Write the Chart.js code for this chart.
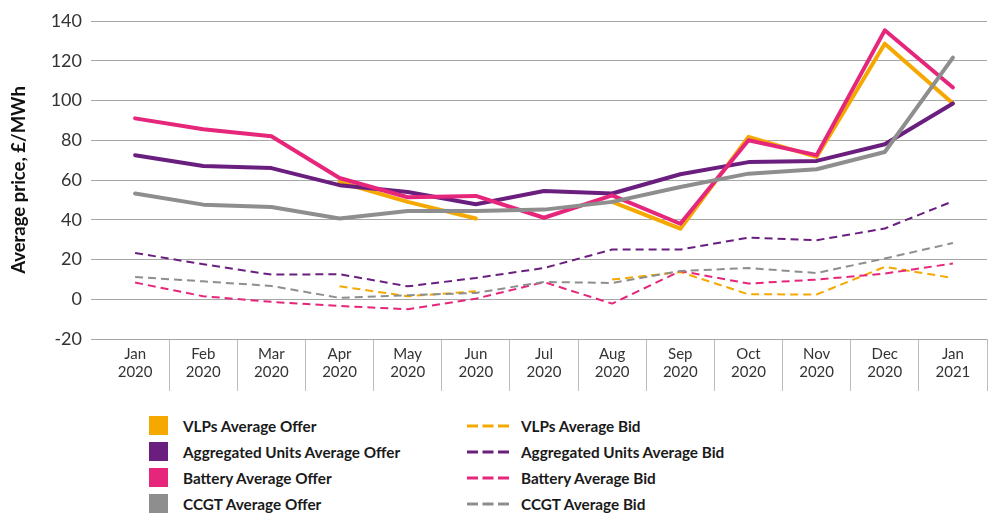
<!DOCTYPE html>
<html>
<head>
<meta charset="utf-8">
<script src="https://cdn.jsdelivr.net/npm/chart.js@4"></script>
<style>
  body { margin: 0; background: #fff; width: 995px; height: 516px; overflow: hidden; position: relative; font-family: Lato, "Open Sans", sans-serif; }
  #chart { position: absolute; left: 0; top: 0; }
  .lg { position: absolute; font-weight: 700; font-size: 15.3px; color: #1a1a1a; white-space: nowrap; line-height: 20px; }
  .sw { position: absolute; width: 19px; height: 19px; }
</style>
</head>
<body>
<canvas id="chart" width="995" height="391"></canvas>
<div id="legend"></div>
<script>
// categories (month, year)
const months = [
    ["Jan", "2020"], ["Feb", "2020"], ["Mar", "2020"], ["Apr", "2020"], ["May", "2020"],
    ["Jun", "2020"], ["Jul", "2020"], ["Aug", "2020"], ["Sep", "2020"], ["Oct", "2020"],
    ["Nov", "2020"], ["Dec", "2020"], ["Jan", "2021"]
];

// average offers, £/MWh
const vlpOffer = [null, null, null, 59, 49, 40.6, null, 49, 35.5, 81.7, 71.6, 128.6, 98.5];
const aggOffer = [72.5, 67, 66, 57.4, 54, 47.8, 54.5, 53.2, 62.9, 69, 69.6, 78, 98.5];
const batteryOffer = [91, 85.5, 82, 61, 51.3, 52, 41, 52.3, 38, 80, 72.5, 135.3, 106.5];
const ccgtOffer = [53.2, 47.6, 46.4, 40.6, 44.4, 44.4, 45.1, 49, 56.5, 63.2, 65.4, 74.1, 121.6];

// average bids, £/MWh
const vlpBid = [null, null, null, 6.5, 1.5, 4, null, 9.9, 13.7, 2.5, 2.4, 16.3, 10.7];
const aggBid = [23.3, 17.6, 12.4, 12.6, 6.5, 10.7, 15.7, 25, 25, 31, 29.7, 35.6, 49.3];
const batteryBid = [8.4, 1.5, -1.3, -3.4, -5, 0.3, 8.6, -2.2, 14.2, 7.9, 9.9, 12.9, 18];
const ccgtBid = [11.2, 9, 6.7, 0.7, 2, 3.2, 8.7, 8.2, 14.2, 15.7, 13.2, 20.5, 28.3];

const ORANGE = "#F5A800";
const PURPLE = "#6A1F7F";
const PINK = "#E5267B";
const GREY = "#8E8E8E";

function offer(label, data, color, order) {
    return {
        label: label, data: data, borderColor: color, backgroundColor: color,
        borderWidth: 4, pointRadius: 0, tension: 0, order: order,
        borderCapStyle: "round", borderJoinStyle: "round", spanGaps: false
    };
}
function bid(label, data, color, order) {
    return {
        label: label, data: data, borderColor: color, backgroundColor: color,
        borderWidth: 2, pointRadius: 0, tension: 0, order: order,
        borderDash: [8, 5], borderJoinStyle: "round", spanGaps: false
    };
}

const datasets = [
    offer("VLPs Average Offer", vlpOffer, ORANGE, 4),
    offer("Aggregated Units Average Offer", aggOffer, PURPLE, 3),
    offer("Battery Average Offer", batteryOffer, PINK, 2),
    offer("CCGT Average Offer", ccgtOffer, GREY, 1),
    bid("VLPs Average Bid", vlpBid, ORANGE, 8),
    bid("Aggregated Units Average Bid", aggBid, PURPLE, 7),
    bid("Battery Average Bid", batteryBid, PINK, 6),
    bid("CCGT Average Bid", ccgtBid, GREY, 5)
];

const ctx = document.getElementById("chart").getContext("2d");
const chart = new Chart(ctx, {
    type: "line",
    data: { labels: months, datasets: datasets },
    options: {
        responsive: false,
        animation: false,
        devicePixelRatio: 1,
        layout: { padding: { top: 21, right: 8, left: 0, bottom: 0 } },
        plugins: { legend: { display: false }, tooltip: { enabled: false } },
        scales: {
            x: {
                offset: true,
                afterFit: function (scale) { scale.height = 52; },
                border: { display: false },
                grid: {
                    offset: true,
                    drawOnChartArea: false,
                    drawTicks: true,
                    tickLength: 52,
                    lineWidth: 1,
                    color: function (c) {
                        // no separator on the outer edges
                        return (c.index === 0 || c.index === months.length) ? "rgba(0,0,0,0)" : "#bdbdbd";
                    }
                },
                ticks: {
                    padding: -46,
                    maxRotation: 0,
                    autoSkip: false,
                    color: "#333",
                    font: { family: "Lato", size: 15 }
                }
            },
            y: {
                min: -20,
                max: 140,
                afterFit: function (scale) { scale.width = 101; },
                border: { display: false },
                grid: { color: "#a6a6a6", lineWidth: 1, tickLength: 10 },
                ticks: {
                    stepSize: 20,
                    padding: 9,
                    color: "#333",
                    font: { family: "Lato", size: 18 }
                },
                title: {
                    display: true,
                    text: "Average price, £/MWh",
                    color: "#111",
                    padding: { top: 8, bottom: 0 },
                    font: { family: "Lato", size: 18.5, weight: "bold" }
                }
            }
        }
    }
});

// legend in two columns: offers (squares) left, bids (dashed lines) right
const legend = document.getElementById("legend");
const rowY = [426, 452, 478, 504];
chart.data.datasets.forEach(function (ds, i) {
    const row = i % 4;
    const isBid = i >= 4;
    const cy = rowY[row];
    if (!isBid) {
        const sw = document.createElement("div");
        sw.className = "sw";
        sw.style.left = "149px";
        sw.style.top = (cy - 10) + "px";
        sw.style.background = ds.borderColor;
        legend.appendChild(sw);
    } else {
        const svg = document.createElementNS("http://www.w3.org/2000/svg", "svg");
        svg.setAttribute("width", "44");
        svg.setAttribute("height", "6");
        svg.style.position = "absolute";
        svg.style.left = "467px";
        svg.style.top = (cy - 3) + "px";
        const ln = document.createElementNS("http://www.w3.org/2000/svg", "line");
        ln.setAttribute("x1", "0"); ln.setAttribute("y1", "3");
        ln.setAttribute("x2", "42"); ln.setAttribute("y2", "3");
        ln.setAttribute("stroke", ds.borderColor);
        ln.setAttribute("stroke-width", "3");
        ln.setAttribute("stroke-dasharray", "11,4.5");
        svg.appendChild(ln);
        legend.appendChild(svg);
    }
    const t = document.createElement("div");
    t.className = "lg";
    t.textContent = ds.label;
    t.style.left = (isBid ? 521 : 183) + "px";
    t.style.top = (cy - 10) + "px";
    legend.appendChild(t);
});
</script>
</body>
</html>
